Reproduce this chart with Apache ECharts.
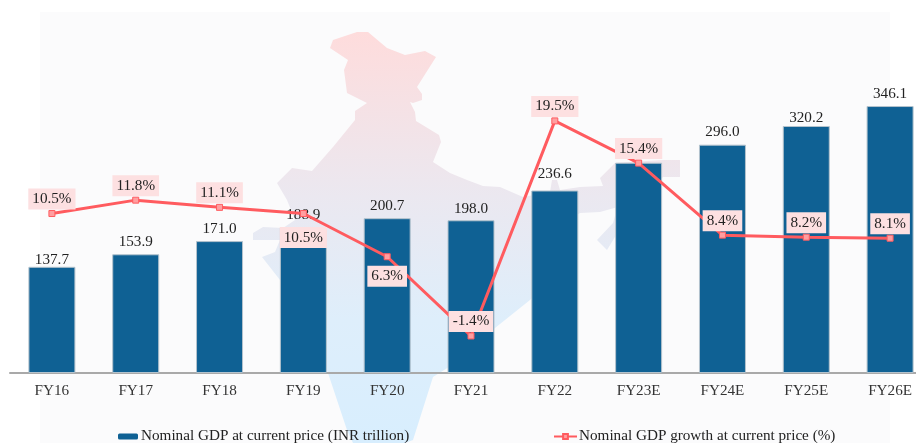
<!DOCTYPE html>
<html><head><meta charset="utf-8">
<style>html,body{margin:0;padding:0;background:#fff}#c{width:916px;height:443px;filter:blur(0.5px)}</style>
<script src="https://cdn.jsdelivr.net/npm/echarts@6/dist/echarts.min.js"></script>
</head><body><div id="c"></div>
<script>
const categories = ['FY16','FY17','FY18','FY19','FY20','FY21','FY22','FY23E','FY24E','FY25E','FY26E'];
const gdpValues = [137.7,153.9,171.0,188.9,200.7,198.0,236.6,272.6,296.0,320.2,346.1];
const growthValues = [10.5,11.8,11.1,10.5,6.3,-1.4,19.5,15.4,8.4,8.2,8.1];
const gdpName = 'Nominal GDP at current price (INR trillion)';
const growthName = 'Nominal GDP growth at current price (%)';
// label placement tweaks, by category
const gdpLabelDistance = {FY16:-1,FY21:4,FY22:9,FY25E:1};
const gdpLabelHidden = ['FY23E'];
const growthLabelBelow = {FY19:10,FY20:5.5};
// decorative backdrop outline (India silhouette), in pixels
const mapOutline = [[330,48],[333,40],[357,32],[368,32],[387,48],[405,55],[425,51],[436,57],[417,87],[422,94],[422,100],[413,103],[410,102],[415,112],[416,121],[439,135],[441,142],[433,162],[450,173],[467,180],[483,186],[500,187],[523,197],[550,192],[552,180],[557,180],[560,190],[580,187],[603,186],[600,178],[615,163],[663,160],[680,160],[680,177],[663,177],[645,195],[625,212],[615,216],[613,223],[597,240],[607,250],[618,232],[630,225],[640,215],[625,205],[600,212],[580,213],[560,225],[545,285],[530,300],[495,328],[460,360],[433,377],[413,440],[405,443],[353,443],[347,430],[328,373],[300,320],[280,280],[262,257],[275,252],[280,240],[253,240],[253,233],[263,227],[283,228],[295,220],[287,200],[277,183],[292,168],[312,171],[333,147],[355,120],[355,111],[367,103],[347,93],[344,70],[348,60]];

const FONT = '"Liberation Serif", serif';
const SIZE = 15.2;
const chart = echarts.init(document.getElementById('c'), null, {renderer:'canvas'});
chart.setOption({
  animation:false,
  backgroundColor:'#ffffff',
  graphic:[
    {type:'rect', z:-10, shape:{x:40,y:12,width:850,height:431}, style:{fill:'#fbfbfc'}, silent:true},
    {type:'polygon', z:-9, shape:{points:mapOutline}, silent:true,
     style:{fill:new echarts.graphic.LinearGradient(0,0,0,1,[
       {offset:0,color:'#fedcdc'},{offset:0.4,color:'#ebe8f0'},{offset:0.7,color:'#deeefb'},{offset:1,color:'#d8eefe'}])}}
  ],
  legend:[
    {data:[{name:gdpName,itemStyle:{borderWidth:0}}], left:118, top:429, padding:0, itemWidth:20, itemHeight:6,
     textStyle:{fontFamily:FONT,fontSize:SIZE,color:'#222',padding:[2,0,0,-2]}},
    {data:[growthName], left:553, top:429, padding:0, itemWidth:23, itemHeight:6,
     textStyle:{fontFamily:FONT,fontSize:SIZE,color:'#222',padding:[2,0,0,-3]}}
  ],
  grid:{left:10,width:922,top:10,height:363,containLabel:false,outerBoundsMode:'none'},
  xAxis:{type:'category',data:categories,
    axisLine:{lineStyle:{color:'#a9a9a9',width:2}},axisTick:{show:false},
    axisLabel:{interval:0,fontFamily:FONT,fontSize:SIZE,color:'#333',margin:11,hideOverlap:false}},
  yAxis:[
    {type:'value',min:0,max:470.6,show:false,splitLine:{show:false}},
    {type:'value',min:-5,max:30.28,show:false,splitLine:{show:false}}
  ],
  series:[
    {name:gdpName,type:'bar',barWidth:47,
     data:gdpValues.map((v,i)=>{
       const c=categories[i];
       const label={};
       if(gdpLabelHidden.includes(c)) label.show=false;
       if(c in gdpLabelDistance) label.distance=gdpLabelDistance[c];
       return {value:v,label};
     }),
     itemStyle:{color:'#0f6194',borderColor:'#b4c3cd',borderWidth:1},
     label:{show:true,position:'top',distance:5,fontFamily:FONT,fontSize:SIZE,color:'#222',
       formatter:p=>p.value.toFixed(1)}},
    {name:growthName,type:'line',yAxisIndex:1,z:3,
     data:growthValues.map((v,i)=>{
       const c=categories[i];
       return c in growthLabelBelow
         ?{value:v,label:{position:'bottom',distance:growthLabelBelow[c]}}
         :{value:v};
     }),
     symbol:'rect',symbolSize:6,showAllSymbol:true,
     lineStyle:{color:'#ff5b5f',width:3},
     itemStyle:{color:'#ff9ea0',borderColor:'#ff5b5f',borderWidth:1},
     label:{show:true,position:'top',distance:0.5,fontFamily:FONT,fontSize:SIZE,color:'#222',
       backgroundColor:'#fde0e1',padding:[3,4,3,4],
       formatter:p=>p.value.toFixed(1)+'%'}}
  ]
});
</script></body></html>
